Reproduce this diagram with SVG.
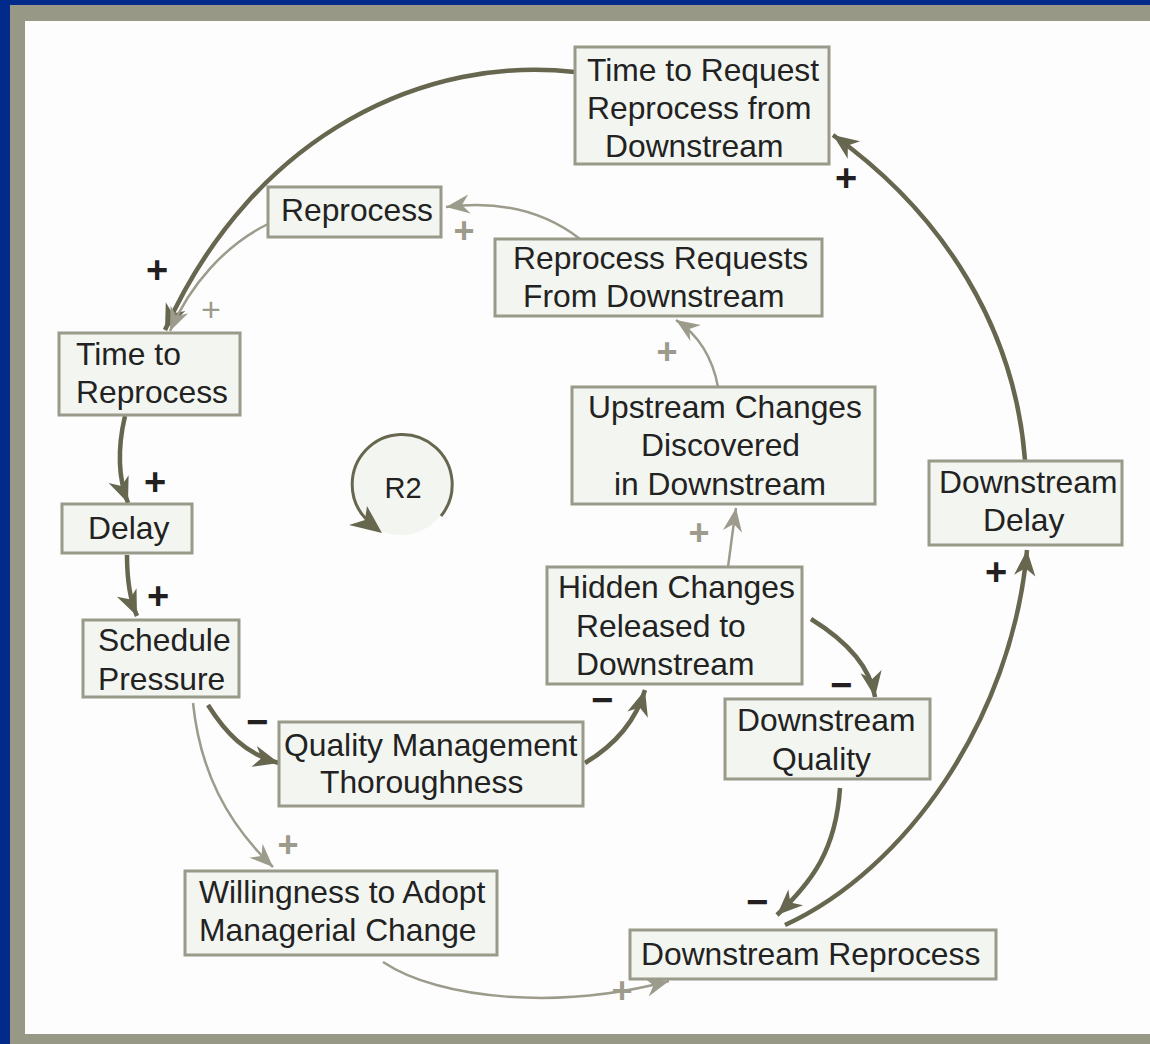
<svg xmlns="http://www.w3.org/2000/svg" width="1150" height="1044" viewBox="0 0 1150 1044">
<defs>
<marker id="ad" markerUnits="userSpaceOnUse" markerWidth="30" markerHeight="30" viewBox="-26 -12 28 24" refX="0" refY="0" orient="auto">
<path d="M0,0 L-24,-10 L-17,0 L-24,10 Z" fill="#67664f"/>
</marker>
<marker id="al" markerUnits="userSpaceOnUse" markerWidth="30" markerHeight="30" viewBox="-26 -12 28 24" refX="0" refY="0" orient="auto">
<path d="M0,0 L-22,-9 L-15,0 L-22,9 Z" fill="#9c9b8c"/>
</marker>
<style>
.box{fill:#f3f5f0;stroke:#9a9a8a;stroke-width:3}
.t{font-family:"Liberation Sans",Arial,sans-serif;font-size:31.8px;fill:#222}
.dk{fill:none;stroke:#67664f;stroke-width:4.5;marker-end:url(#ad)}
.lt{fill:none;stroke:#9c9b8c;stroke-width:2.5;marker-end:url(#al)}
.pd{font-family:"Liberation Sans",Arial,sans-serif;font-size:38px;font-weight:bold;fill:#231f20;text-anchor:middle}
.pl{font-family:"Liberation Sans",Arial,sans-serif;font-size:36px;font-weight:bold;fill:#9c9b8c;text-anchor:middle}
</style>
</defs>
<rect x="0" y="0" width="1150" height="1044" fill="#012a8a"/>
<rect x="10" y="5" width="1140" height="1039" fill="#989887"/>
<rect x="25" y="21" width="1125" height="1013" fill="#fdfdfd"/>

<g id="connectors">
<path class="dk" d="M575,72 C430,55 255,130 165,330"/>
<path class="dk" d="M1025,460 C1015,330 945,215 833,135"/>
<path class="dk" d="M785,925 C905,870 1012,720 1027,550"/>
<path class="dk" d="M840,788 C836,850 812,882 777,915"/>
<path class="dk" d="M811,619 C845,640 870,665 875,697"/>
<path class="dk" d="M585,763 C615,745 636,720 645,690"/>
<path class="dk" d="M208,705 C225,732 245,754 279,763"/>
<path class="dk" d="M125,416 C117,450 119,480 128,503"/>
<path class="dk" d="M127,555 C127,580 130,600 137,616"/>
<path class="lt" d="M268,224 C225,245 190,285 170,331"/>
<path class="lt" d="M580,239 C545,212 500,200 446,207"/>
<path class="lt" d="M718,387 C713,360 700,336 676,320"/>
<path class="lt" d="M728,567 C731,545 733,528 736,508"/>
<path class="lt" d="M193,703 C200,770 226,822 273,867"/>
<path class="lt" d="M383,962 C440,1000 560,1010 669,981"/>
<text class="pd" x="157" y="283">+</text>
<text class="pd" x="846" y="191">+</text>
<text class="pd" x="996" y="585">+</text>
<text class="pd" x="155" y="495">+</text>
<text class="pd" x="158" y="609">+</text>
<text class="pd" x="757" y="915">−</text>
<text class="pd" x="841" y="698">−</text>
<text class="pd" x="602" y="713">−</text>
<text class="pd" x="257" y="735">−</text>
<text x="211" y="321" style="font-family:'Liberation Sans',Arial,sans-serif;font-size:34px;fill:#9c9b8c;text-anchor:middle">+</text>
<text class="pl" x="464" y="243">+</text>
<text class="pl" x="667" y="364">+</text>
<text class="pl" x="699" y="545">+</text>
<text class="pl" x="288" y="857">+</text>
<text class="pl" x="622" y="1003">+</text>
</g>

<g id="r2">
<circle cx="401" cy="485" r="50" fill="#f3f5f0"/>
<path d="M441,516 A50,50 0 1 0 366,519" fill="none" stroke="#67664f" stroke-width="3"/>
<path d="M382,533 L367,506 L365,520 L349,525 Z" fill="#67664f"/>
<text class="t" x="403" y="498" text-anchor="middle" style="font-size:29px">R2</text>
</g>

<g id="n-time-request">
<rect class="box" x="575" y="47" width="254" height="117"/>
<text class="t" x="587" y="81">Time to Request</text>
<text class="t" x="587" y="119">Reprocess from</text>
<text class="t" x="605" y="157">Downstream</text>
</g>
<g id="n-reprocess">
<rect class="box" x="268" y="187" width="173" height="50"/>
<text class="t" x="281" y="221">Reprocess</text>
</g>
<g id="n-reprocess-requests">
<rect class="box" x="495" y="239" width="327" height="77"/>
<text class="t" x="513" y="269">Reprocess Requests</text>
<text class="t" x="523" y="307">From Downstream</text>
</g>
<g id="n-time-reprocess">
<rect class="box" x="59" y="333" width="181" height="82"/>
<text class="t" x="76" y="365">Time to</text>
<text class="t" x="76" y="403">Reprocess</text>
</g>
<g id="n-delay">
<rect class="box" x="62" y="504" width="130" height="49"/>
<text class="t" x="88" y="539">Delay</text>
</g>
<g id="n-schedule">
<rect class="box" x="83" y="620" width="156" height="77"/>
<text class="t" x="98" y="651">Schedule</text>
<text class="t" x="98" y="690">Pressure</text>
</g>
<g id="n-upstream">
<rect class="box" x="572" y="387" width="303" height="117"/>
<text class="t" x="588" y="418">Upstream Changes</text>
<text class="t" x="641" y="456">Discovered</text>
<text class="t" x="614" y="495">in Downstream</text>
</g>
<g id="n-downstream-delay">
<rect class="box" x="929" y="461" width="193" height="84"/>
<text class="t" x="939" y="493">Downstream</text>
<text class="t" x="983" y="531">Delay</text>
</g>
<g id="n-hidden">
<rect class="box" x="547" y="567" width="255" height="117"/>
<text class="t" x="558" y="598">Hidden Changes</text>
<text class="t" x="576" y="637">Released to</text>
<text class="t" x="576" y="675">Downstream</text>
</g>
<g id="n-quality-mgmt">
<rect class="box" x="279" y="722" width="304" height="84"/>
<text class="t" x="284" y="756">Quality Management</text>
<text class="t" x="320" y="793">Thoroughness</text>
</g>
<g id="n-downstream-quality">
<rect class="box" x="725" y="699" width="205" height="80"/>
<text class="t" x="737" y="731">Downstream</text>
<text class="t" x="772" y="770">Quality</text>
</g>
<g id="n-willingness">
<rect class="box" x="185" y="871" width="312" height="84"/>
<text class="t" x="199" y="903">Willingness to Adopt</text>
<text class="t" x="199" y="941">Managerial Change</text>
</g>
<g id="n-downstream-reprocess">
<rect class="box" x="630" y="930" width="366" height="49"/>
<text class="t" x="641" y="965">Downstream Reprocess</text>
</g>
</svg>
